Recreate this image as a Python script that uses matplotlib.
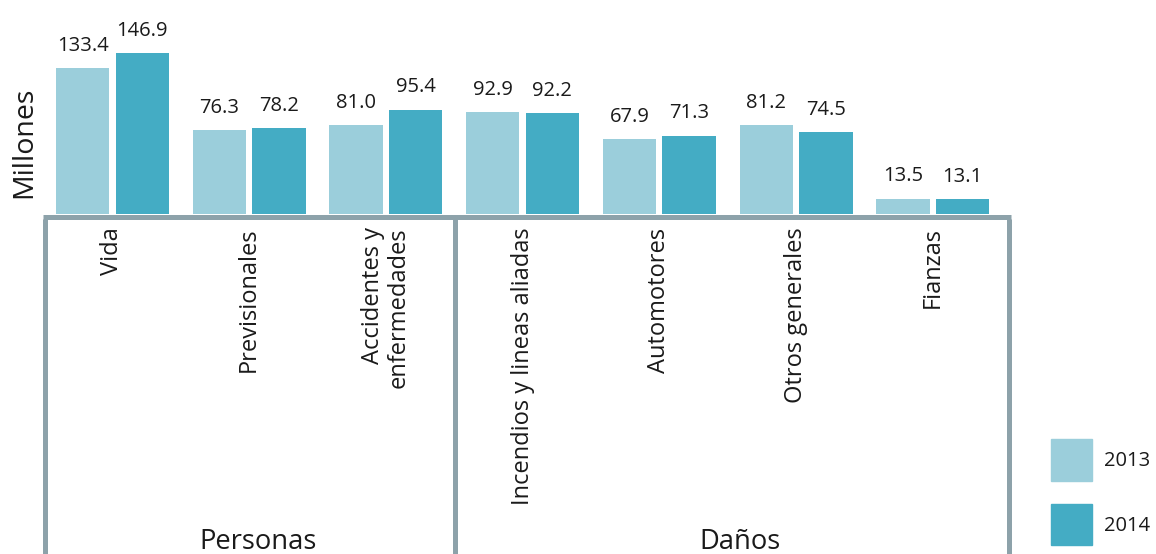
import matplotlib
matplotlib.use("Agg")
import matplotlib.pyplot as plt
from matplotlib.patches import Patch
import matplotlib.transforms as mtransforms

categories = ["Vida", "Previsionales", "Accidentes y\nenfermedades",
              "Incendios y lineas aliadas", "Automotores", "Otros generales", "Fianzas"]
groups = ["Personas", "Daños"]
years = ["2013", "2014"]
values_2013 = [133.4, 76.3, 81.0, 92.9, 67.9, 81.2, 13.5]
values_2014 = [146.9, 78.2, 95.4, 92.2, 71.3, 74.5, 13.1]

c13 = "#9BCEDB"
c14 = "#44ACC4"
line_c = "#8DA2AA"
txt_c = "#1a1a1a"

plt.rcParams['font.family'] = ['Open Sans', 'DejaVu Sans']

W, H = 1156, 554
fig = plt.figure(figsize=(W / 100, H / 100), dpi=100)
base_px = 213.5
ax = fig.add_axes([43 / W, (H - base_px) / H, (1011 - 43) / W, base_px / H])
ax.set_xlim(-0.508, 6.572)
ax.set_ylim(0, base_px / 1.09)
ax.axis('off')

x = list(range(len(categories)))
bw = 0.39
off = 0.218
b1 = ax.bar([i - off for i in x], values_2013, bw, color=c13, label=years[0])
b2 = ax.bar([i + off for i in x], values_2014, bw, color=c14, label=years[1])

for bars, vals in ((b1, values_2013), (b2, values_2014)):
    for r, v in zip(bars, vals):
        ax.annotate(f"{v:.1f}", (r.get_x() + r.get_width() / 2, r.get_height()),
                    xytext=(0, 12.5), textcoords='offset points', ha='center',
                    va='baseline', fontsize=14.5, color=txt_c)

# category labels
for i, c in enumerate(categories):
    ax.annotate(c, (i, 0), xytext=(0, -10), textcoords='offset points',
                rotation=90, ha='center', va='top', multialignment='right',
                fontsize=17, color=txt_c, linespacing=1.05)

# bracket lines
trans = mtransforms.blended_transform_factory(ax.transData, ax.transAxes)
ly = -3.0 / base_px
lw = 5 * 72 / 100
ax.plot([-0.49 - 0.0183, 6.557 + 0.0183], [ly, ly], transform=trans, color=line_c,
        lw=lw, clip_on=False, solid_capstyle='butt')
for xb in (-0.49, 2.505, 6.557):
    ax.plot([xb, xb], [ly - 2.5 / base_px, -2.0], transform=trans, color=line_c,
            lw=lw, clip_on=False, solid_capstyle='butt')

# group labels
for gx, g in zip((1.064, 4.59), groups):
    ax.text(gx, (base_px - 549) / base_px, g, transform=trans, ha='center',
            va='baseline', fontsize=19.7, color=txt_c)

fig.text(24 / W, (H - 142) / H, "Millones", rotation=90, ha='center', va='center',
         fontsize=20.5, color=txt_c)

handles = [Patch(color=c13), Patch(color=c14)]
fig.legend(handles, years, loc='upper left', bbox_to_anchor=(1051 / W, (H - 439) / H),
           frameon=False, fontsize=14.5, handlelength=2.04, handleheight=2.8,
           labelspacing=1.15, handletextpad=0.6, borderpad=0, borderaxespad=0,
           labelcolor=txt_c)

fig.savefig("out.png", dpi=100)
